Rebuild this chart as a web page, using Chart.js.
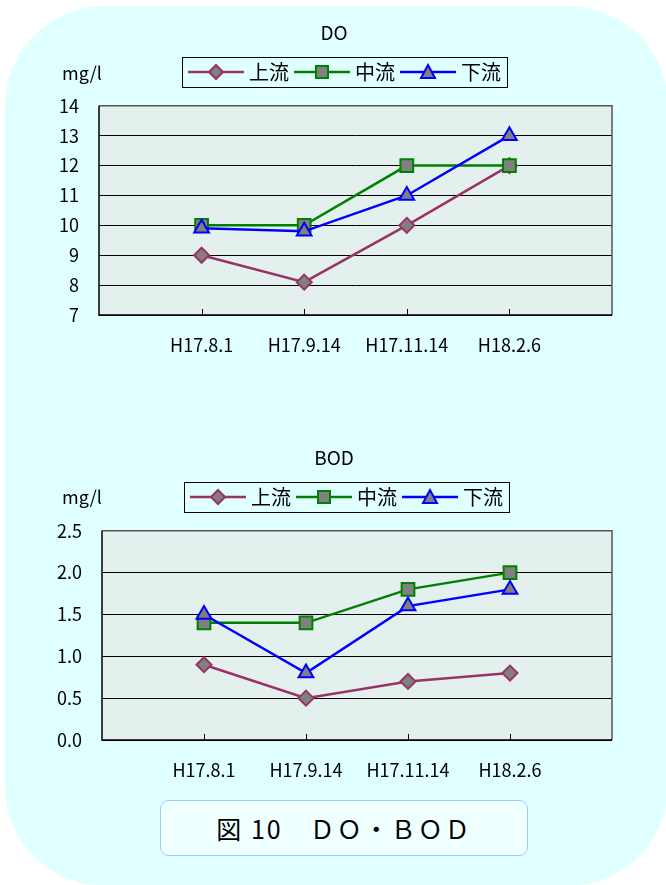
<!DOCTYPE html>
<html lang="ja">
<head>
<meta charset="utf-8">
<title>図10 DO・BOD</title>
<script src="https://cdn.jsdelivr.net/npm/chart.js@4.4.1/dist/chart.umd.min.js"></script>
<style>
  html, body { margin: 0; padding: 0; background: #fff; }
  body { width: 666px; height: 885px; position: relative; overflow: hidden; font-family: 'Noto Sans CJK JP', sans-serif; }
  .panel { position: absolute; left: 5px; top: 6px; width: 663px; height: 880px; border-radius: 100px; background: #e0ffff; }
  canvas { position: absolute; left: 0; }
  #doChart { top: 0; }
  #bodChart { top: 425px; }
  .caption {
    position: absolute; left: 160px; top: 800px; width: 366px; height: 54px;
    border: 1.5px solid #99ccff; border-radius: 9px; background: #f0ffff;
    font-size: 25px; line-height: 54px; text-align: center; letter-spacing: 2px; color: #000;
  }
</style>
</head>
<body>
<div class="panel"></div>
<canvas id="doChart" width="666" height="375"></canvas>
<canvas id="bodChart" width="666" height="375"></canvas>
<div class="caption">図 10　ＤＯ・ＢＯＤ</div>
<script>
const dates = ['H17.8.1', 'H17.9.14', 'H17.11.14', 'H18.2.6'];
const seriesNames = ['上流', '中流', '下流'];

const doUpper = [9, 8.1, 10, 12];
const doMiddle = [10, 10, 12, 12];
const doLower = [9.9, 9.8, 11, 13];

const bodUpper = [0.9, 0.5, 0.7, 0.8];
const bodMiddle = [1.4, 1.4, 1.8, 2.0];
const bodLower = [1.5, 0.8, 1.6, 1.8];

const doTicks = [7, 8, 9, 10, 11, 12, 13, 14];
const bodTicks = [0, 0.5, 1.0, 1.5, 2.0, 2.5];

const colors = ['#993366', '#008000', '#0000ff'];
const shapes = ['rectRot', 'rect', 'triangle'];
const radii = [7.5, 9, 8.5];
const markerFill = '#808080';
const plotBg = '#e3f0ee';
const fontFamily = "'Noto Sans CJK JP', sans-serif";

Chart.defaults.font.family = fontFamily;
Chart.defaults.color = '#000';

// legend symbol: short line with the marker in the middle
const legendSymbol = (i) => {
	const c = document.createElement('canvas');
	c.width = 56;
	c.height = 18;
	const ctx = c.getContext('2d');
	ctx.strokeStyle = colors[i];
	ctx.lineWidth = 2.5;
	ctx.beginPath();
	ctx.moveTo(0, 9);
	ctx.lineTo(56, 9);
	ctx.stroke();
	ctx.fillStyle = markerFill;
	ctx.lineWidth = 2;
	ctx.beginPath();
	if (i === 0) {
		ctx.moveTo(28, 2); ctx.lineTo(35, 9); ctx.lineTo(28, 16); ctx.lineTo(21, 9);
	} else if (i === 1) {
		ctx.rect(22, 3, 12, 12);
	} else {
		ctx.moveTo(28, 2); ctx.lineTo(35, 15); ctx.lineTo(21, 15);
	}
	ctx.closePath();
	ctx.fill();
	ctx.stroke();
	return c;
};
const symbols = [0, 1, 2].map(legendSymbol);

const framePlugin = {
	id: 'frame',
	afterLayout(chart, args, opts) {
		// put the title and the legend where the original has them
		const t = chart.titleBlock;
		const lg = chart.legend;
		const tdx = opts.titleX - (t.left + t.right) / 2;
		const tdy = opts.titleY - (t.top + t.bottom) / 2;
		t.left += tdx; t.right += tdx; t.top += tdy; t.bottom += tdy;
		const ldx = opts.legendX - (lg.left + lg.right) / 2;
		const ldy = opts.legendY - (lg.top + lg.bottom) / 2;
		lg.left += ldx; lg.right += ldx; lg.top += ldy; lg.bottom += ldy;
	},
	beforeDraw(chart) {
		const a = chart.chartArea;
		const ctx = chart.ctx;
		ctx.save();
		ctx.fillStyle = plotBg;
		ctx.fillRect(a.left, a.top, a.width, a.height);
		ctx.restore();
	},
	beforeDatasetsDraw(chart) {
		const a = chart.chartArea;
		const ctx = chart.ctx;
		const x = chart.scales.x;
		ctx.save();
		ctx.strokeStyle = '#000';
		ctx.lineWidth = 1;
		ctx.beginPath();
		for (let i = 1; i < x.ticks.length - 1; i++) {
			const px = Math.round(x.getPixelForTick(i)) + 0.5;
			ctx.moveTo(px, a.bottom);
			ctx.lineTo(px, a.bottom - 6);
		}
		ctx.stroke();
		ctx.strokeStyle = '#555';
		ctx.lineWidth = 1.5;
		ctx.beginPath();
		ctx.moveTo(a.left, a.top);
		ctx.lineTo(a.right, a.top);
		ctx.lineTo(a.right, a.bottom);
		ctx.stroke();
		ctx.strokeStyle = '#000';
		ctx.beginPath();
		ctx.moveTo(a.left, a.top);
		ctx.lineTo(a.left, a.bottom);
		ctx.lineTo(a.right, a.bottom);
		ctx.stroke();
		ctx.restore();
	},
	afterDraw(chart, args, opts) {
		const ctx = chart.ctx;
		const boxes = chart.legend.legendHitBoxes;
		if (boxes && boxes.length) {
			const l = Math.min(...boxes.map((b) => b.left)) - 11;
			const r = Math.max(...boxes.map((b) => b.left + b.width)) + 6;
			const cy = opts.legendY;
			ctx.save();
			ctx.strokeStyle = '#000';
			ctx.lineWidth = 1;
			ctx.strokeRect(Math.round(l) + 0.5, Math.round(cy - 15) + 0.5, Math.round(r - l), 30);
			ctx.restore();
		}
		ctx.save();
		ctx.font = `18px ${fontFamily}`;
		ctx.fillStyle = '#000';
		ctx.textBaseline = 'middle';
		ctx.fillText(opts.unit, opts.unitX, chart.chartArea.top - opts.unitDy);
		ctx.restore();
	},
};

const makeChart = (id, title, series, ticks, decimals, plotLeft, legendX, topPad, unitDy) => {
	const labels = ['', ...dates, ''];
	new Chart(document.getElementById(id), {
		type: 'line',
		data: {
			labels: labels,
			datasets: series.map((values, i) => ({
				label: seriesNames[i],
				data: [null, ...values, null],
				borderColor: colors[i],
				borderWidth: 2.5,
				backgroundColor: markerFill,
				pointStyle: shapes[i],
				pointRadius: radii[i],
				pointBorderWidth: 2,
				pointBorderColor: colors[i],
				pointBackgroundColor: markerFill,
				order: 3 - i,
				tension: 0,
			})),
		},
		options: {
			responsive: false,
			animation: false,
			layout: { padding: { left: 0, right: 54, top: topPad, bottom: 0 } },
			plugins: {
				tooltip: { enabled: false },
				title: {
					display: true,
					text: title,
					font: { size: 19, weight: 'normal' },
					padding: { top: 6, bottom: 6 },
				},
				legend: {
					position: 'top',
					labels: {
						usePointStyle: true,
						pointStyleWidth: 46,
						padding: 10,
						font: { size: 20 },
						generateLabels: (chart) =>
							chart.data.datasets.map((ds, i) => ({
								text: ds.label,
								pointStyle: symbols[i],
								fillStyle: markerFill,
								strokeStyle: colors[i],
								lineWidth: 0,
								hidden: false,
								datasetIndex: i,
							})),
					},
				},
				frame: { unit: 'mg/l', unitX: 62, unitDy: unitDy, titleX: 334, titleY: 33, legendX: legendX, legendY: 72 },
			},
			scales: {
				x: {
					type: 'category',
					offset: false,
					grid: { display: false, drawTicks: false },
					border: { display: false },
					ticks: { autoSkip: false, maxRotation: 0, padding: 19, font: { size: 18 } },
					afterFit: (scale) => { scale.height = 60; },
				},
				y: {
					min: ticks[0],
					max: ticks[ticks.length - 1],
					afterBuildTicks: (scale) => { scale.ticks = ticks.map((v) => ({ value: v })); },
					grid: { color: '#000', lineWidth: 1, drawTicks: false },
					border: { display: false },
					ticks: {
						padding: 20,
						font: { size: 18 },
						callback: (v) => v.toFixed(decimals),
					},
					afterFit: (scale) => { scale.width = plotLeft; },
				},
			},
		},
		plugins: [framePlugin],
	});
};

makeChart('doChart', 'DO', [doUpper, doMiddle, doLower], doTicks, 0, 99, 347, 31, 33);
makeChart('bodChart', 'BOD', [bodUpper, bodMiddle, bodLower], bodTicks, 1, 102, 349, 31, 34);
</script>
</body>
</html>
